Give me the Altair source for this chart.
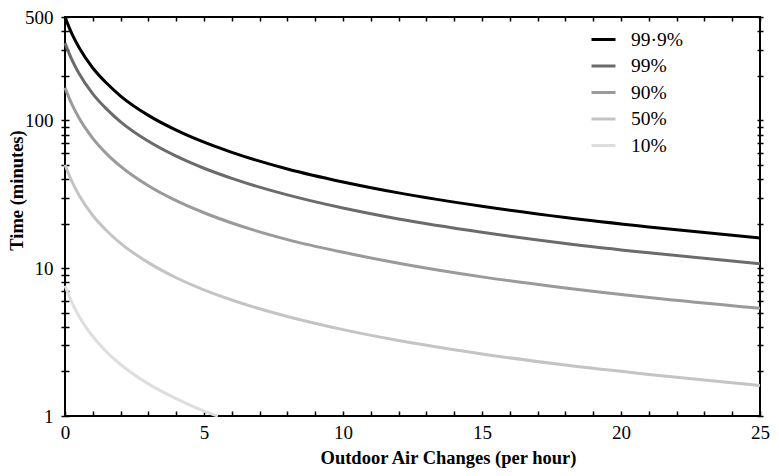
import altair as alt
import pandas as pd

# Values
series_labels = ["99·9%", "99%", "90%", "50%", "10%"]
series_colors = ["#000000", "#6b6b6b", "#9a9a9a", "#c4c4c4", "#dedede"]

x_vals = [0, 0.25, 0.5, 1, 1.5, 2, 3, 4, 5, 6, 8, 10, 12, 15, 18, 21, 25]
t999 = [499, 384, 312, 226, 178, 146, 108, 85.8, 71.1, 60.7, 46.9, 38.3, 32.3, 26.2, 22.0, 19.0, 16.0]
t99 = [333, 256, 208, 151, 119, 97.6, 72.1, 57.2, 47.4, 40.5, 31.3, 25.5, 21.5, 17.5, 14.7, 12.7, 10.7]
t90 = [166, 128, 104, 75.5, 59.3, 48.8, 36.1, 28.6, 23.7, 20.2, 15.6, 12.8, 10.8, 8.73, 7.34, 6.33, 5.35]
t50 = [50.1, 38.5, 31.3, 22.7, 17.9, 14.7, 10.9, 8.61, 7.13, 6.09, 4.71, 3.84, 3.24, 2.63, 2.21, 1.91, 1.61]
x10 = [0, 0.25, 0.5, 1, 1.5, 2, 3, 4, 5, 5.5]
t10 = [7.61, 5.85, 4.75, 3.45, 2.71, 2.23, 1.65, 1.31, 1.08, 1.0]

x_label_values = [0, 5, 10, 15, 20, 25]
x_tick_values = list(range(0, 26))
y_tick_values = [1, 2, 3, 4, 5, 6, 7, 8, 9, 10, 20, 30, 40, 50, 60, 70, 80, 90, 100, 200, 300, 400, 500]

rows = []
for lab, xs, ts in [
    (series_labels[0], x_vals, t999),
    (series_labels[1], x_vals, t99),
    (series_labels[2], x_vals, t90),
    (series_labels[3], x_vals, t50),
    (series_labels[4], x10, t10),
]:
    for xv, tv in zip(xs, ts):
        rows.append({"series": lab, "x": xv, "t": tv})
df = pd.DataFrame(rows)

FONT = "Liberation Serif"
xscale = alt.Scale(domain=[0, 25], nice=False, zero=False)
yscale = alt.Scale(type="log", domain=[1, 500], nice=False)

label_expr = "(datum.value == 1 || datum.value == 10 || datum.value == 100 || datum.value == 500) ? format(datum.value, 'd') : ''"

lines = alt.Chart(df).mark_line(strokeWidth=3, interpolate="monotone").encode(
    x=alt.X("x:Q", scale=xscale, axis=alt.Axis(
        orient="bottom", values=x_label_values, format="d", ticks=False, domain=False,
        grid=False, labelFlush=False, labelPadding=7, title="Outdoor Air Changes (per hour)",
        titleX=383, titleY=47, titleBaseline="alphabetic", titleAlign="center")),
    y=alt.Y("t:Q", scale=yscale, axis=alt.Axis(
        orient="left", values=y_tick_values, labelExpr=label_expr, ticks=False, domain=False,
        grid=False, labelPadding=12, labelFlush=False, title="Time (minutes)",
        titleX=-49, titleY=173, titleBaseline="middle", titleAlign="center", titleAngle=270)),
    color=alt.Color("series:N", scale=alt.Scale(domain=series_labels, range=series_colors),
                    sort=series_labels,
                    legend=alt.Legend(title=None, orient="none", legendX=525, legendY=9,
                                      symbolType="stroke", symbolSize=576, symbolStrokeWidth=3,
                                      labelFont=FONT, labelFontSize=19.5, labelColor="black",
                                      labelOffset=14, rowPadding=3.5)),
)

ticks_bl = alt.Chart(df).mark_line(opacity=0).encode(
    x=alt.X("x:Q", scale=xscale, axis=alt.Axis(
        orient="bottom", values=x_tick_values, offset=-5, tickSize=5, labels=False,
        domain=False, grid=False, title=None, tickWidth=1.5)),
    y=alt.Y("t:Q", scale=yscale, axis=alt.Axis(
        orient="left", values=y_tick_values, offset=-4, tickSize=8, labels=False,
        domain=False, grid=False, title=None, tickWidth=1.5)),
    detail="series:N",
)

ticks_tr = alt.Chart(df).mark_line(opacity=0).encode(
    x=alt.X("x:Q", scale=xscale, axis=alt.Axis(
        orient="top", values=x_tick_values, offset=-4, tickSize=4, labels=False,
        domain=False, grid=False, title=None, tickWidth=1.5)),
    y=alt.Y("t:Q", scale=yscale, axis=alt.Axis(
        orient="right", values=y_tick_values, offset=-3, tickSize=6, labels=False,
        domain=False, grid=False, title=None, tickWidth=1.5)),
    detail="series:N",
)

chart = alt.layer(lines, ticks_bl, ticks_tr).resolve_axis(
    x="independent", y="independent"
).properties(
    width=695, height=399,
    autosize=alt.AutoSizeParams(type="none"),
    padding={"left": 57, "top": 9, "right": 11, "bottom": 52},
    background="white",
).configure_view(
    stroke="black", strokeWidth=2
).configure_axis(
    labelFont=FONT, labelFontSize=19, labelColor="black",
    titleFont=FONT, titleFontSize=18.5, titleFontWeight="bold", titleColor="black",
    tickColor="black",
).configure_legend(
    labelFont=FONT, labelFontSize=19.5, labelColor="black",
)

chart.save("out.html", embed_options={"renderer": "svg", "actions": False})
